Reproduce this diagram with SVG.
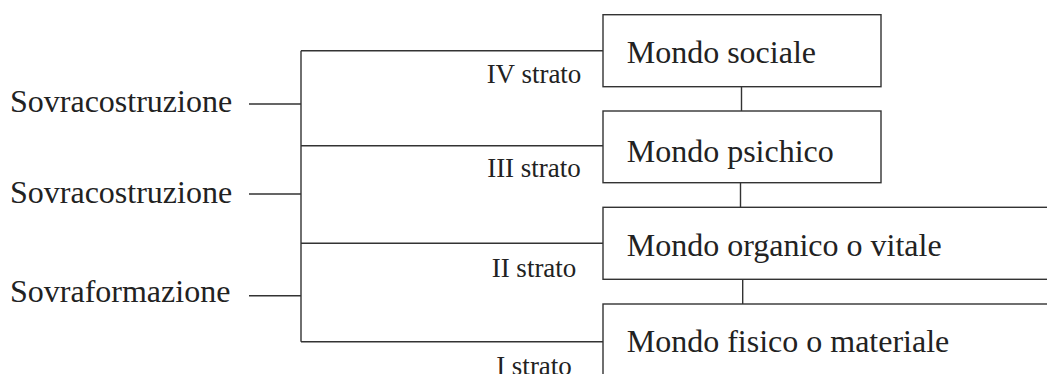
<svg xmlns="http://www.w3.org/2000/svg" width="1047" height="374" viewBox="0 0 1047 374">
<style>
  .ln{stroke:#333;stroke-width:1.4;fill:none}
  .box{stroke:#333;stroke-width:1.4;fill:#fff}
  .big{font-family:"Liberation Serif","Times New Roman",serif;font-size:32px;fill:#222}
  .small{font-family:"Liberation Serif","Times New Roman",serif;font-size:27px;fill:#222;text-anchor:middle}
</style>
<rect width="1047" height="374" fill="#fff"/>
<g id="connectors">
  <path class="ln" d="M301,50.7 V341.7"/>
  <path class="ln" d="M249,104 H301 M249,194 H301 M249,295.7 H301"/>
  <path class="ln" d="M301,50.7 H603 M301,145.7 H603 M301,243.3 H603 M301,341.7 H603"/>
  <path class="ln" d="M741.5,86.7 V111 M740.5,182.7 V207.3 M742.7,279.3 V304"/>
</g>
<g id="left-labels">
  <text id="lbl-sovracostruzione-1" class="big" x="10" y="111.5">Sovracostruzione</text>
  <text id="lbl-sovracostruzione-2" class="big" x="10" y="202.5">Sovracostruzione</text>
  <text id="lbl-sovraformazione" class="big" x="10" y="302.3">Sovraformazione</text>
</g>
<g id="strata-labels">
  <text class="small" x="534" y="83.3">IV strato</text>
  <text class="small" x="534" y="176.7">III strato</text>
  <text class="small" x="534" y="277.3">II strato</text>
  <text class="small" x="534" y="375">I strato</text>
</g>
<g id="node-sociale">
  <rect class="box" x="603" y="14.7" width="278" height="72"/>
  <text class="big" x="626.7" y="63.3">Mondo sociale</text>
</g>
<g id="node-psichico">
  <rect class="box" x="603" y="111" width="278" height="71.7"/>
  <text class="big" x="626.7" y="161.7">Mondo psichico</text>
</g>
<g id="node-organico">
  <rect class="box" x="603" y="207.3" width="470" height="72"/>
  <text class="big" x="626.7" y="255.7">Mondo organico o vitale</text>
</g>
<g id="node-fisico">
  <rect class="box" x="603" y="304" width="470" height="80"/>
  <text class="big" x="626.7" y="352">Mondo fisico o materiale</text>
</g>
</svg>
